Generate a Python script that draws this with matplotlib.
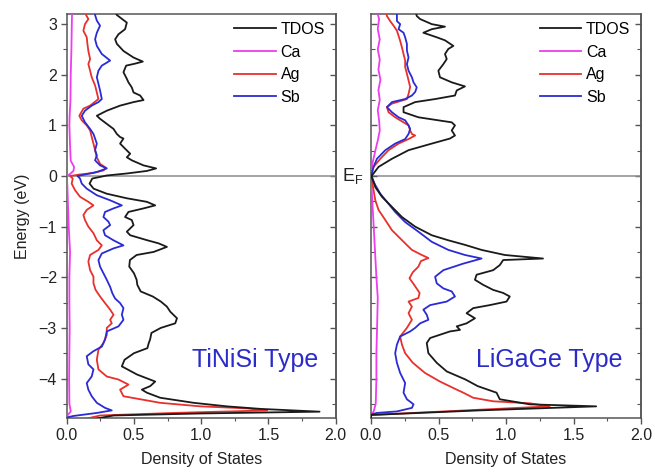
import matplotlib

matplotlib.use("Agg")
import matplotlib.pyplot as plt
from matplotlib.ticker import AutoMinorLocator, MultipleLocator

plt.rcParams["font.family"] = ["Liberation Sans", "DejaVu Sans"]
plt.rcParams["mathtext.fontset"] = "custom"
plt.rcParams["mathtext.rm"] = "Liberation Sans"

# ---- TiNiSi type: energy (eV) / DOS pairs per projection ----
tinisi_tdos_e = [3.25, 3.18, 3.03, 2.90, 2.80, 2.70, 2.61, 2.47, 2.34, 2.26, 2.22, 2.18, 2.05,
                 1.92, 1.85, 1.75, 1.65, 1.59, 1.50, 1.46, 1.39, 1.29, 1.19, 1.13, 1.03, 0.93,
                 0.83, 0.77, 0.74, 0.64, 0.54, 0.44, 0.37, 0.31, 0.21, 0.15, 0.10, 0.05, 0.01,
                 -0.05, -0.15, -0.25, -0.35, -0.44, -0.51, -0.58, -0.64, -0.71, -0.81, -0.87,
                 -0.97, -1.10, -1.17, -1.27, -1.33, -1.40, -1.50, -1.56, -1.66, -1.79, -1.92,
                 -2.05, -2.15, -2.28, -2.38, -2.48, -2.58, -2.68, -2.81, -2.91, -3.00, -3.10,
                 -3.23, -3.30, -3.40, -3.50, -3.63, -3.76, -3.92, -4.06, -4.15, -4.22, -4.28,
                 -4.38, -4.48, -4.55, -4.60, -4.655, -4.69, -4.73, -4.85]
tinisi_tdos = [0.36, 0.373, 0.447, 0.434, 0.385, 0.36, 0.373, 0.422, 0.497, 0.566, 0.509, 0.442,
               0.422, 0.447, 0.459, 0.484, 0.497, 0.546, 0.571, 0.497, 0.397, 0.298, 0.224, 0.248,
               0.298, 0.348, 0.373, 0.397, 0.422, 0.397, 0.434, 0.472, 0.447, 0.484, 0.571, 0.665,
               0.596, 0.447, 0.298, 0.19, 0.17, 0.20, 0.298, 0.447, 0.596, 0.658, 0.571, 0.459,
               0.434, 0.484, 0.497, 0.447, 0.472, 0.60, 0.683, 0.745, 0.646, 0.52, 0.47, 0.465,
               0.50, 0.52, 0.525, 0.55, 0.64, 0.70, 0.745, 0.77, 0.82, 0.807, 0.70, 0.63, 0.62,
               0.61, 0.60, 0.50, 0.43, 0.41, 0.522, 0.658, 0.621, 0.559, 0.596, 0.695, 0.944,
               1.19, 1.44, 1.88, 1.0, 0.35, 0.1]

tinisi_ca_e = [3.25, 3.0, 2.5, 2.0, 1.5, 1.2, 1.0, 0.6, 0.3, 0.18, 0.1, 0.03, 0.0, -0.2, -0.6,
               -1.0, -1.5, -2.0, -2.5, -3.0, -3.5, -4.0, -4.5, -4.65, -4.75]
tinisi_ca = [0.04, 0.038, 0.035, 0.03, 0.028, 0.022, 0.02, 0.025, 0.03, 0.055, 0.05, 0.02, 0.0,
             0.005, 0.01, 0.015, 0.025, 0.02, 0.02, 0.022, 0.02, 0.018, 0.02, 0.03, 0.0]

tinisi_ag_e = [3.25, 3.18, 3.10, 3.00, 2.87, 2.74, 2.61, 2.47, 2.31, 2.21, 2.08, 1.95, 1.79, 1.65,
               1.52, 1.39, 1.33, 1.19, 1.10, 1.00, 0.90, 0.77, 0.64, 0.51, 0.37, 0.24, 0.16, 0.11,
               0.06, 0.03, 0.00, -0.05, -0.15, -0.28, -0.41, -0.51, -0.58, -0.67, -0.77, -0.87,
               -1.00, -1.13, -1.27, -1.37, -1.46, -1.56, -1.69, -1.86, -1.99, -2.12, -2.25,
               -2.38, -2.51, -2.64, -2.74, -2.84, -2.91, -3.00, -3.14, -3.30, -3.43, -3.63,
               -3.82, -3.96, -4.02, -4.12, -4.22, -4.35, -4.48, -4.55, -4.59, -4.63, -4.68,
               -4.73, -4.85]
tinisi_ag = [0.15, 0.144, 0.161, 0.136, 0.124, 0.149, 0.154, 0.161, 0.174, 0.161, 0.174, 0.186,
             0.211, 0.224, 0.236, 0.174, 0.124, 0.094, 0.112, 0.149, 0.174, 0.186, 0.199, 0.211,
             0.224, 0.248, 0.293, 0.273, 0.199, 0.099, 0.025, 0.045, 0.037, 0.062, 0.099, 0.161,
             0.199, 0.149, 0.124, 0.136, 0.161, 0.199, 0.224, 0.261, 0.236, 0.174, 0.161, 0.174,
             0.199, 0.199, 0.215, 0.248, 0.285, 0.323, 0.348, 0.323, 0.335, 0.298, 0.298, 0.273,
             0.236, 0.224, 0.236, 0.298, 0.385, 0.459, 0.397, 0.422, 0.695, 0.994, 1.34, 1.49,
             0.8, 0.25, 0.05]

tinisi_sb_e = [3.25, 3.18, 3.07, 2.97, 2.83, 2.70, 2.57, 2.41, 2.28, 2.18, 2.08, 1.95, 1.82, 1.69,
               1.52, 1.46, 1.39, 1.29, 1.19, 1.06, 0.93, 0.83, 0.74, 0.64, 0.51, 0.41, 0.31, 0.21,
               0.15, 0.08, 0.03, 0.00, -0.05, -0.15, -0.25, -0.38, -0.48, -0.58, -0.64, -0.71,
               -0.81, -0.90, -0.97, -1.07, -1.17, -1.27, -1.37, -1.43, -1.53, -1.66, -1.79,
               -1.92, -2.05, -2.19, -2.32, -2.42, -2.51, -2.61, -2.74, -2.84, -2.97, -3.07,
               -3.23, -3.37, -3.46, -3.56, -3.72, -3.82, -3.96, -4.09, -4.22, -4.35, -4.48,
               -4.58, -4.63, -4.68, -4.74, -4.77, -4.85]
tinisi_sb = [0.21, 0.211, 0.224, 0.248, 0.224, 0.211, 0.224, 0.261, 0.323, 0.261, 0.236, 0.224,
             0.236, 0.248, 0.261, 0.236, 0.186, 0.136, 0.112, 0.136, 0.174, 0.199, 0.211, 0.224,
             0.211, 0.224, 0.211, 0.248, 0.298, 0.224, 0.136, 0.08, 0.099, 0.112, 0.149, 0.224,
             0.323, 0.41, 0.348, 0.285, 0.273, 0.31, 0.323, 0.273, 0.285, 0.348, 0.422, 0.348,
             0.261, 0.236, 0.248, 0.273, 0.298, 0.323, 0.34, 0.36, 0.397, 0.422, 0.41, 0.422,
             0.385, 0.298, 0.285, 0.261, 0.199, 0.149, 0.161, 0.199, 0.186, 0.149, 0.161, 0.186,
             0.224, 0.285, 0.335, 0.224, 0.05, 0.0, 0.0]

# ---- LiGaGe type ----
ligage_tdos_e = [3.25, 3.16, 3.10, 3.00, 2.95, 2.90, 2.83, 2.74, 2.68, 2.57, 2.51, 2.41, 2.31,
                 2.21, 2.08, 1.95, 1.85, 1.77, 1.69, 1.59, 1.52, 1.46, 1.36, 1.26, 1.16, 1.10,
                 1.06, 1.00, 0.90, 0.80, 0.74, 0.64, 0.51, 0.34, 0.18, 0.01, 0.00, -0.02, -0.22,
                 -0.41, -0.61, -0.81, -1.00, -1.17, -1.27, -1.36, -1.46, -1.56, -1.63, -1.66,
                 -1.76, -1.86, -1.95, -2.05, -2.15, -2.25, -2.31, -2.38, -2.48, -2.55, -2.61,
                 -2.71, -2.81, -2.91, -2.97, -3.04, -3.07, -3.20, -3.30, -3.50, -3.69, -3.86,
                 -4.02, -4.15, -4.28, -4.41, -4.51, -4.55, -4.63, -4.72, -4.85]
ligage_tdos = [0.33, 0.339, 0.364, 0.45, 0.548, 0.45, 0.388, 0.487, 0.548, 0.61, 0.573, 0.548,
               0.561, 0.536, 0.499, 0.511, 0.598, 0.696, 0.635, 0.622, 0.475, 0.327, 0.241, 0.241,
               0.351, 0.499, 0.598, 0.622, 0.598, 0.622, 0.585, 0.45, 0.278, 0.155, 0.056, 0.007,
               0.0, 0.007, 0.032, 0.081, 0.155, 0.229, 0.327, 0.45, 0.573, 0.696, 0.819, 0.991,
               1.274, 0.979, 0.954, 0.905, 0.782, 0.77, 0.831, 0.905, 0.979, 1.028, 1.004, 0.88,
               0.757, 0.708, 0.77, 0.708, 0.635, 0.659, 0.585, 0.438, 0.413, 0.425, 0.487, 0.561,
               0.70, 0.79, 0.93, 0.954, 1.176, 1.668, 0.8, 0.0, 0.0]

ligage_ca_e = [3.25, 3.1, 2.9, 2.7, 2.5, 2.3, 2.1, 1.9, 1.7, 1.5, 1.3, 1.1, 0.9, 0.7, 0.5, 0.3,
               0.18, 0.0, -0.5, -1.0, -1.5, -2.0, -2.4, -3.0, -3.5, -4.0, -4.5, -4.65, -4.72]
ligage_ca = [0.045, 0.06, 0.05, 0.065, 0.05, 0.065, 0.055, 0.07, 0.055, 0.065, 0.05, 0.06, 0.065,
             0.05, 0.032, 0.015, 0.007, 0.0, 0.01, 0.02, 0.03, 0.04, 0.05, 0.045, 0.04, 0.04,
             0.035, 0.02, 0.0]

ligage_ag_e = [3.25, 3.16, 3.06, 2.97, 2.87, 2.77, 2.67, 2.54, 2.41, 2.28, 2.15, 2.02, 1.89, 1.76,
               1.62, 1.52, 1.43, 1.36, 1.26, 1.16, 1.06, 1.00, 0.90, 0.83, 0.80, 0.73, 0.64, 0.51,
               0.34, 0.18, 0.00, -0.08, -0.28, -0.48, -0.67, -0.87, -1.07, -1.20, -1.33, -1.46,
               -1.56, -1.62, -1.68, -1.79, -1.90, -2.02, -2.15, -2.31, -2.41, -2.48, -2.58,
               -2.71, -2.84, -3.00, -3.17, -3.33, -3.50, -3.69, -3.89, -4.06, -4.22, -4.28,
               -4.38, -4.45, -4.49, -4.55, -4.63, -4.72, -4.85]
ligage_ag = [0.11, 0.118, 0.142, 0.167, 0.192, 0.204, 0.216, 0.229, 0.241, 0.253, 0.253, 0.266,
             0.278, 0.29, 0.278, 0.266, 0.155, 0.118, 0.13, 0.179, 0.241, 0.278, 0.29, 0.303,
             0.327, 0.278, 0.204, 0.13, 0.069, 0.019, 0.0, 0.007, 0.019, 0.032, 0.056, 0.106,
             0.155, 0.204, 0.253, 0.303, 0.376, 0.425, 0.37, 0.351, 0.31, 0.285, 0.32, 0.36,
             0.351, 0.278, 0.303, 0.278, 0.303, 0.266, 0.216, 0.229, 0.253, 0.31, 0.40, 0.511,
             0.635, 0.684, 0.757, 0.905, 1.176, 1.323, 0.7, 0.0, 0.0]

ligage_sb_e = [3.25, 3.16, 3.06, 3.00, 2.90, 2.83, 2.74, 2.61, 2.48, 2.34, 2.21, 2.08, 1.95, 1.85,
               1.75, 1.66, 1.59, 1.52, 1.46, 1.36, 1.26, 1.16, 1.10, 1.00, 0.93, 0.83, 0.73, 0.64,
               0.51, 0.34, 0.18, 0.00, -0.18, -0.35, -0.51, -0.71, -0.91, -1.10, -1.30, -1.46,
               -1.56, -1.63, -1.73, -1.86, -1.99, -2.12, -2.22, -2.28, -2.38, -2.48, -2.55,
               -2.64, -2.74, -2.84, -2.91, -3.00, -3.07, -3.17, -3.33, -3.50, -3.69, -3.89,
               -4.09, -4.28, -4.41, -4.51, -4.58, -4.65, -4.68, -4.71, -4.85]
ligage_sb = [0.19, 0.192, 0.192, 0.216, 0.204, 0.241, 0.253, 0.266, 0.266, 0.278, 0.266, 0.278,
             0.303, 0.315, 0.339, 0.327, 0.303, 0.253, 0.155, 0.118, 0.155, 0.204, 0.253, 0.278,
             0.29, 0.278, 0.253, 0.179, 0.106, 0.044, 0.019, 0.0, 0.032, 0.069, 0.118, 0.179,
             0.253, 0.351, 0.45, 0.573, 0.696, 0.819, 0.684, 0.536, 0.475, 0.487, 0.536, 0.598,
             0.622, 0.561, 0.438, 0.388, 0.413, 0.425, 0.364, 0.327, 0.29, 0.216, 0.192, 0.179,
             0.192, 0.216, 0.253, 0.241, 0.266, 0.315, 0.303, 0.192, 0.044, 0.0, 0.0]

SERIES_LABELS = ["TDOS", "Ca", "Ag", "Sb"]
SERIES_COLORS = ["#1a1a1a", "#ee3cee", "#e8302c", "#2b2bd6"]
PANEL_TITLES = ["TiNiSi Type", "LiGaGe Type"]

X_LIM = (0.0, 2.0)
Y_LIM = (-4.78, 3.2)
FONT_SIZE = 11.5


def style_axis(ax, left_dir):
    ax.set_xlim(*X_LIM)
    ax.set_ylim(*Y_LIM)
    ax.xaxis.set_major_locator(MultipleLocator(0.5))
    ax.xaxis.set_minor_locator(AutoMinorLocator(2))
    ax.yaxis.set_major_locator(MultipleLocator(1))
    ax.yaxis.set_minor_locator(AutoMinorLocator(2))
    ax.tick_params(axis="x", which="major", direction="out", length=4, width=1,
                   color="#555555", labelsize=FONT_SIZE, labelcolor="#222222", pad=3)
    ax.tick_params(axis="x", which="minor", direction="out", length=2.5, width=0.8,
                   color="#555555")
    ax.tick_params(axis="y", which="major", direction=left_dir, length=4, width=1,
                   color="#555555", labelsize=FONT_SIZE, labelcolor="#222222", pad=3)
    ax.tick_params(axis="y", which="minor", direction=left_dir, length=3, width=0.8,
                   color="#555555")
    for spine in ax.spines.values():
        spine.set_color("#555555")
        spine.set_linewidth(1.1)
    ax.xaxis.set_major_formatter(plt.FuncFormatter(lambda v, _: f"{v:.1f}"))

    # inward ticks along the right edge
    right = ax.secondary_yaxis("right")
    right.yaxis.set_major_locator(MultipleLocator(1))
    right.yaxis.set_minor_locator(AutoMinorLocator(2))
    right.tick_params(which="major", direction="in", length=4, width=1, color="#555555",
                      labelright=False)
    right.tick_params(which="minor", direction="in", length=3, width=0.8, color="#555555")
    right.spines["right"].set_color("#555555")
    right.spines["right"].set_linewidth(1.1)

    ax.axhline(0, color="#8c8c8c", linewidth=1.1, zorder=1)
    ax.set_xlabel("Density of States", fontsize=FONT_SIZE, color="#222222", labelpad=7)


fig = plt.figure(figsize=(6.55, 4.73), dpi=100)
ax1 = fig.add_axes([66.7 / 655, 55 / 473, 269 / 655, 404 / 473])
ax2 = fig.add_axes([371 / 655, 55 / 473, 270 / 655, 404 / 473])

panels = [
    (ax1, [(tinisi_tdos, tinisi_tdos_e), (tinisi_ca, tinisi_ca_e),
           (tinisi_ag, tinisi_ag_e), (tinisi_sb, tinisi_sb_e)], "out", 0.93),
    (ax2, [(ligage_tdos, ligage_tdos_e), (ligage_ca, ligage_ca_e),
           (ligage_ag, ligage_ag_e), (ligage_sb, ligage_sb_e)], "in", 0.78),
]

for (ax, curves, left_dir, title_x), title in zip(panels, PANEL_TITLES):
    style_axis(ax, left_dir)
    for (dos, energy), label, color in zip(curves, SERIES_LABELS, SERIES_COLORS):
        ax.plot(dos, energy, color=color, linewidth=1.3, label=label, zorder=3)
    # draw TDOS on top so its peak overlays the partials
    ax.lines[-4].set_zorder(4)
    ax.text(title_x, -3.63, title, color="#2b2bc8", fontsize=18, ha="left", va="center")
    ax.legend(loc="upper right", frameon=False, fontsize=FONT_SIZE, handlelength=2.6,
              handletextpad=0.3, labelspacing=0.48, borderaxespad=0.1,
              bbox_to_anchor=(0.99, 1.0))

ax1.set_ylabel("Energy (eV)", fontsize=FONT_SIZE, color="#222222", labelpad=6)
ax2.tick_params(axis="y", labelleft=False)
ax2.text(-0.028, 0.0, r"E$_\mathregular{F}$", transform=ax2.get_yaxis_transform(),
         fontsize=13, ha="right", va="center", color="#222222")

fig.savefig("out.png", dpi=100)
